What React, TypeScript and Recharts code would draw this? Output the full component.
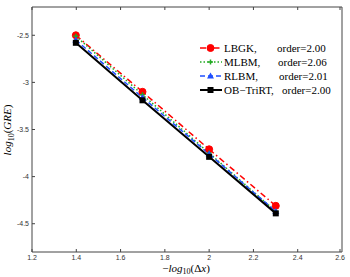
import React from 'react';
import { LineChart, Line, XAxis, YAxis } from 'recharts';

const xValues = [1.398, 1.699, 2.0, 2.301];
const lbgk = [-2.5, -3.1, -3.71, -4.31];
const mlbm = [-2.51, -3.13, -3.75, -4.37];
const rlbm = [-2.55, -3.16, -3.76, -4.37];
const obTriRT = [-2.58, -3.19, -3.79, -4.39];
const xTicks = [1.2, 1.4, 1.6, 1.8, 2, 2.2, 2.4, 2.6];
const yTicks = [-4.5, -4, -3.5, -3, -2.5];

const series = [
  { key: 'lbgk', name: 'LBGK,', order: 'order=2.00', color: '#ff0000', dash: '6 3 1.5 3', marker: 'circle', width: 1.5, orderX: 77 },
  { key: 'mlbm', name: 'MLBM,', order: 'order=2.06', color: '#22aa22', dash: '1.5 2', marker: 'plus', width: 1.5, orderX: 78 },
  { key: 'rlbm', name: 'RLBM,', order: 'order=2.01', color: '#1f4fff', dash: '5 3', marker: 'triangle', width: 1.5, orderX: 79 },
  { key: 'ob', name: 'OB\u2212TriRT,', order: 'order=2.00', color: '#000000', dash: undefined, marker: 'square', width: 2, orderX: 82 },
];

const data = xValues.map((x, i) => ({ x, lbgk: lbgk[i], mlbm: mlbm[i], rlbm: rlbm[i], ob: obTriRT[i] }));

const TOP = 7;
const BOTTOM = 252;
const LEFT = 32;
const RIGHT = 342;
const AXIS = '#444';

const Marker = ({ cx, cy, type, color }: { cx: number; cy: number; type: string; color: string }) => {
  if (cx == null || cy == null) return null;
  if (type === 'circle') return <circle cx={cx} cy={cy} r={3.5} fill={color} stroke={color} />;
  if (type === 'square') return <rect x={cx - 3} y={cy - 3} width={6} height={6} fill={color} />;
  if (type === 'triangle')
    return <polygon points={`${cx},${cy - 3.5} ${cx - 3.5},${cy + 2.5} ${cx + 3.5},${cy + 2.5}`} fill={color} />;
  return (
    <g stroke={color} strokeWidth={1.5}>
      <line x1={cx - 2.5} y1={cy} x2={cx + 2.5} y2={cy} />
      <line x1={cx} y1={cy - 2.5} x2={cx} y2={cy + 2.5} />
    </g>
  );
};

const BottomTick = (props: any) => {
  const { x, payload } = props;
  return (
    <g>
      <line x1={x} y1={BOTTOM} x2={x} y2={BOTTOM - 3} stroke={AXIS} />
      <text x={x} y={BOTTOM + 7.5} textAnchor="middle" fontSize={7} fill="#333" fontFamily="Liberation Sans, Arial">
        {payload.value}
      </text>
    </g>
  );
};

const TopTick = (props: any) => <line x1={props.x} y1={TOP} x2={props.x} y2={TOP + 3} stroke={AXIS} />;

const LeftTick = (props: any) => {
  const { y, payload } = props;
  return (
    <g>
      <line x1={LEFT} y1={y} x2={LEFT + 3} y2={y} stroke={AXIS} />
      <text x={LEFT - 3} y={y + 2.5} textAnchor="end" fontSize={7} fill="#333" fontFamily="Liberation Sans, Arial">
        {payload.value}
      </text>
    </g>
  );
};

const RightTick = (props: any) => <line x1={RIGHT} y1={props.y} x2={RIGHT - 3} y2={props.y} stroke={AXIS} />;

const LegendBox = () => (
  <div
    style={{
      position: 'absolute',
      left: 200,
      top: 41,
      width: 140,
      fontFamily: 'Liberation Serif, Times New Roman, serif',
      fontSize: 11,
      color: '#000',
    }}
  >
    {series.map((s) => (
      <div key={s.key} style={{ position: 'relative', display: 'flex', alignItems: 'center', height: 14, whiteSpace: 'nowrap' }}>
        <svg width={23} height={10}>
          <line x1={0} y1={5} x2={22} y2={5} stroke={s.color} strokeWidth={s.width} strokeDasharray={s.dash} />
          <Marker cx={10.5} cy={5} type={s.marker} color={s.color} />
        </svg>
        <span style={{ marginLeft: 1 }}>{s.name}</span>
        <span style={{ position: 'absolute', left: s.orderX }}>{s.order}</span>
      </div>
    ))}
  </div>
);

export default function App() {
  return (
    <div style={{ position: 'absolute', left: 0, top: 0, width: 350, height: 277, background: '#fff' }}>
      <LineChart width={350} height={277} data={data} margin={{ top: TOP - 2, right: 350 - RIGHT - 2, left: 2, bottom: 5 }}>
        <XAxis
          dataKey="x"
          type="number"
          domain={[1.2, 2.6]}
          ticks={xTicks}
          height={277 - BOTTOM - 5}
          tickLine={false}
          tick={<BottomTick />}
          axisLine={{ stroke: AXIS }}
          label={{
            content: () => (
              <text x={186} y={271.5} textAnchor="middle" fontSize={11} fontFamily="Liberation Serif, serif">
                <tspan>{'\u2212'}</tspan>
                <tspan fontStyle="italic">log</tspan>
                <tspan fontSize={8} dy={2.5}>10</tspan>
                <tspan dy={-2.5}>(Δ</tspan>
                <tspan fontStyle="italic">x</tspan>
                <tspan>)</tspan>
              </text>
            ),
          }}
        />
        <XAxis
          xAxisId="top"
          orientation="top"
          dataKey="x"
          type="number"
          domain={[1.2, 2.6]}
          ticks={xTicks}
          height={2}
          tickLine={false}
          tick={<TopTick />}
          axisLine={{ stroke: AXIS }}
        />
        <YAxis
          type="number"
          domain={[-4.8, -2.2]}
          ticks={yTicks}
          width={LEFT - 2}
          tickLine={false}
          tick={<LeftTick />}
          axisLine={{ stroke: AXIS }}
          label={{
            content: () => (
              <text
                x={0}
                y={0}
                transform="translate(11,130) rotate(-90)"
                textAnchor="middle"
                fontSize={11}
                fontFamily="Liberation Serif, serif"
              >
                <tspan fontStyle="italic">log</tspan>
                <tspan fontSize={8} dy={2.5}>10</tspan>
                <tspan dy={-2.5}>(</tspan>
                <tspan fontStyle="italic">GRE</tspan>
                <tspan>)</tspan>
              </text>
            ),
          }}
        />
        <YAxis
          yAxisId="right"
          orientation="right"
          type="number"
          domain={[-4.8, -2.2]}
          ticks={yTicks}
          width={2}
          tickLine={false}
          tick={<RightTick />}
          axisLine={{ stroke: AXIS }}
        />
        {series.map((s) => (
          <Line
            key={s.key}
            dataKey={s.key}
            name={s.name}
            type="linear"
            stroke={s.color}
            strokeWidth={s.width}
            strokeDasharray={s.dash}
            isAnimationActive={false}
            dot={(p: any) => <Marker key={`${s.key}-${p.index}`} cx={p.cx} cy={p.cy} type={s.marker} color={s.color} />}
            activeDot={false}
          />
        ))}
      </LineChart>
      <LegendBox />
    </div>
  );
}
